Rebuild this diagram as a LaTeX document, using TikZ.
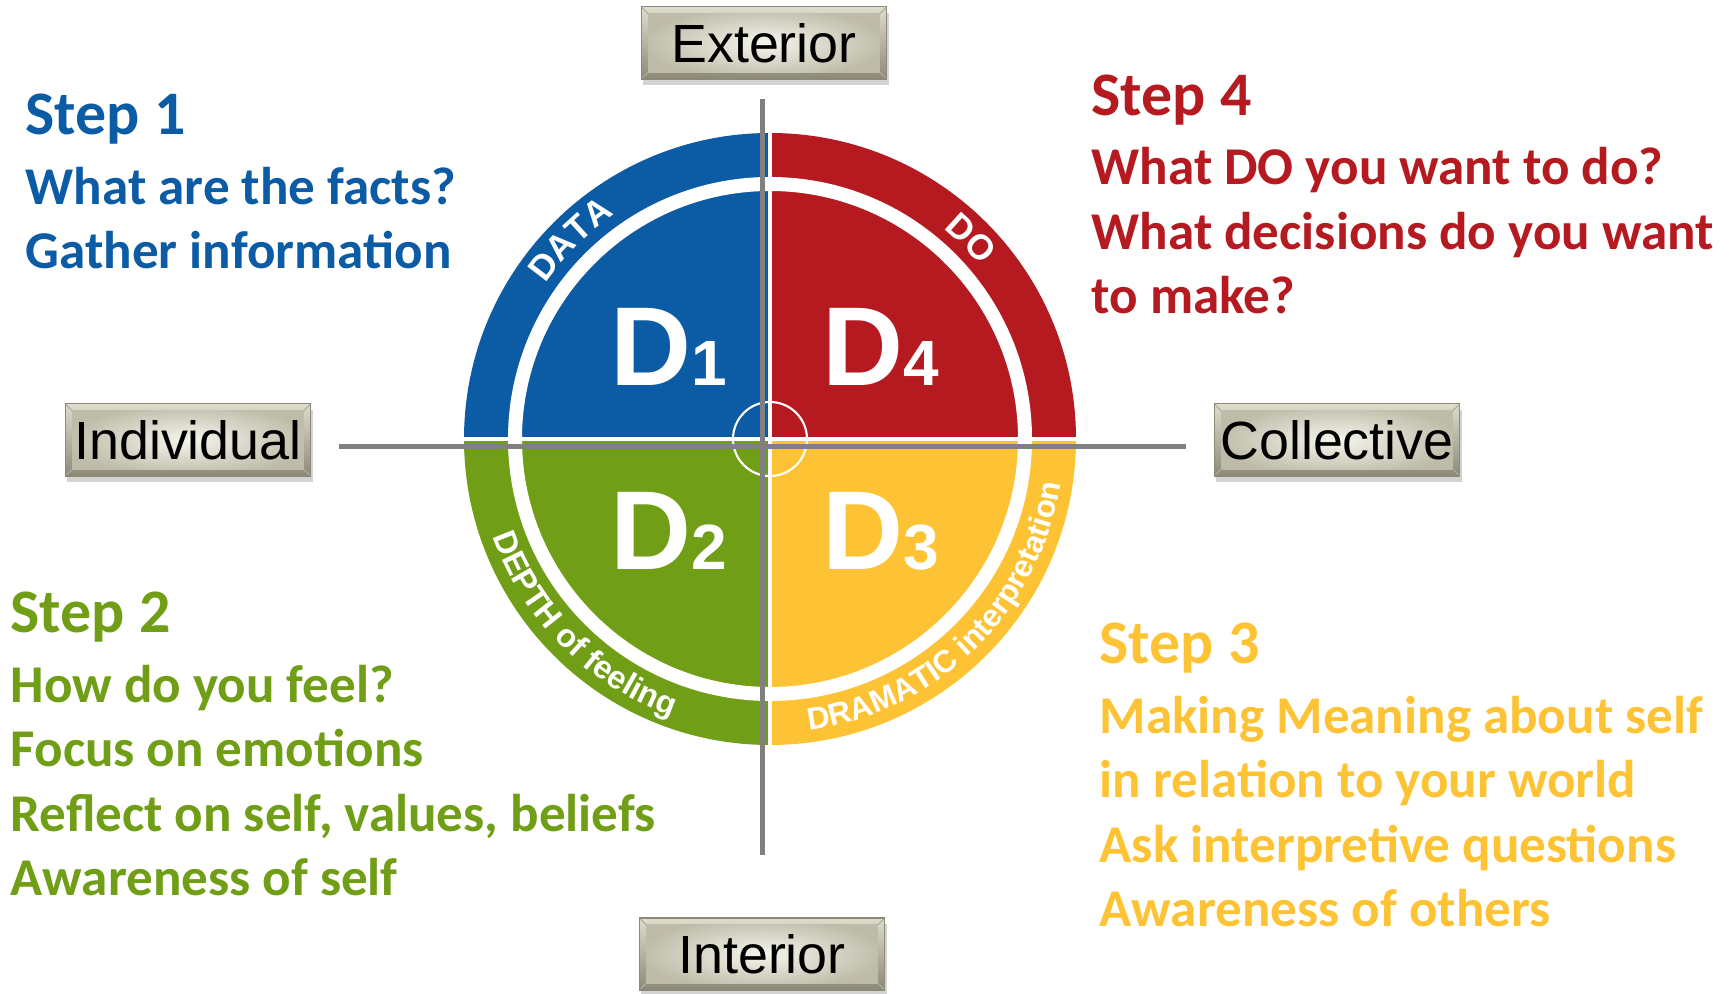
\documentclass[tikz,border=0pt]{standalone}
\usepackage{fontspec}
\setmainfont{Carlito}
\newfontfamily\arialfont{Liberation Sans}
\usetikzlibrary{
  decorations.text,
  shadows
}
\definecolor{dblue}{RGB}{12,91,165}
\definecolor{dred}{RGB}{181,26,32}
\definecolor{dgreen}{RGB}{112,158,22}
\definecolor{dyellow}{RGB}{253,195,52}
\definecolor{axisgray}{RGB}{128,128,128}
\definecolor{boxtop}{RGB}{222,220,205}
\definecolor{boxbot}{RGB}{140,137,119}
\definecolor{boxface}{RGB}{246,245,236}
\definecolor{boxfaceout}{RGB}{190,187,168}
\newcommand\bigarcfont{\arialfont\bfseries\fontsize{10}{12}\selectfont}
\newcommand\midarcfont{\arialfont\bfseries\fontsize{9.2}{11}\selectfont}
\newcommand\smallarcfont{\arialfont\bfseries\fontsize{8.9}{10}\selectfont}
\newcommand\numfont{\fontsize{18.2}{18.2}\selectfont}
\newcommand\headfont{\fontsize{17.6}{18.35}\selectfont}

\begin{document}
\begin{tikzpicture}[x=0.01cm, y=0.01cm,
  axis/.style={axisgray, line width=0.05cm},
  gap/.style={white, line width=0.04cm},
  bevelbox/.style={minimum width=2.45cm, minimum height=0.72cm, inner sep=0pt,
    font=\arialfont\fontsize{15.3}{15.3}\selectfont, text=black,
    top color=boxtop, bottom color=boxbot, draw=boxbot, line width=0.3pt,
    drop shadow={shadow xshift=0.02cm, shadow yshift=-0.06cm, opacity=0.35},
    path picture={
      \shade[inner color=boxface, outer color=boxfaceout]
        ([shift={(0.07cm,0.07cm)}]path picture bounding box.south west) rectangle
        ([shift={(-0.07cm,-0.07cm)}]path picture bounding box.north east);
      \draw[boxbot!70!white, line width=0.3pt]
        (path picture bounding box.south west) -- ++(0.07cm,0.07cm)
        (path picture bounding box.north west) -- ++(0.07cm,-0.07cm)
        (path picture bounding box.south east) -- ++(-0.07cm,0.07cm)
        (path picture bounding box.north east) -- ++(-0.07cm,-0.07cm);
    }},
  stepnode/.style={anchor=base west, align=left, inner sep=0pt,
    font=\bfseries\fontsize{15.1}{18.35}\selectfont},
  dlabel/.style={anchor=base west, inner sep=0pt, text=white,
    font=\arialfont\bfseries\fontsize{31.9}{32}\selectfont},
  arclabel/.style={decorate, decoration={text along path, text align=center,
    text color=white, text={#1}}}
]
\useasboundingbox (0,0) rectangle (1730,994);
\coordinate (c) at (770,555);

\foreach \col/\a in {dblue/90, dgreen/180, dyellow/270, dred/0}
  \fill[\col] (c) -- ++(\a:306) arc[start angle=\a, end angle=\a+90, radius=306] -- cycle;
\draw[white, line width=0.14cm] (c) circle[radius=255];
\draw[gap] (c) ++(-310,0) -- ++(620,0);
\draw[gap] (c) ++(0,-310) -- ++(0,620);
\draw[white, line width=0.6pt] (c) circle[radius=37];

\path[arclabel={|\bigarcfont|DATA}] (c) ++(160:273) arc[start angle=160, end angle=110, radius=273];
\path[arclabel={|\bigarcfont|DO}] (c) ++(70:273) arc[start angle=70, end angle=20, radius=273];
\path[arclabel={|\midarcfont|DEPTH of feeling}] (c) ++(190:294) arc[start angle=190, end angle=260, radius=294];
\path[arclabel={|\smallarcfont|DRAMATIC interpretation}] (c) ++(268:294) arc[start angle=268, end angle=361, radius=294];

\node[dlabel] (d1) at (610,608) {D\numfont 1};
\node[dlabel] (d4) at (822,608) {D\numfont 4};
\node[dlabel] (d2) at (610,424) {D\numfont 2};
\node[dlabel] (d3) at (822,424) {D\numfont 3};

\coordinate (vtop) at (762,895);
\coordinate (vbot) at (762,139);
\coordinate (hleft) at (339,547);
\coordinate (hright) at (1186,547);
\draw[axis] (vtop) -- (vbot);
\draw[axis] (hleft) -- (hright);

\node[bevelbox] (ext) at (764,951) {Exterior};
\node[bevelbox] (indiv) at (188,554) {Individual};
\node[bevelbox] (coll) at (1337,554) {Collective};
\node[bevelbox] (int) at (762,40) {Interior};

\node[stepnode, text=dblue] (step1) at (25,725)
  {{\headfont Step 1}\\[1.5pt] What are the facts?\\ Gather information};
\node[stepnode, text=dred] (step4) at (1091,680)
  {{\headfont Step 4}\\[1.5pt] What DO you want to do?\\ What decisions do you want\\ to make?};
\node[stepnode, text=dgreen] (step2) at (10,98)
  {{\headfont Step 2}\\[1.5pt] How do you feel?\\ Focus on emotions\\ Reflect on self, values, beliefs\\ Awareness of self};
\node[stepnode, text=dyellow] (step3) at (1099,67)
  {{\headfont Step 3}\\[1.5pt] Making Meaning about self\\ in relation to your world\\ Ask interpretive questions\\ Awareness of others};
\end{tikzpicture}
\end{document}
